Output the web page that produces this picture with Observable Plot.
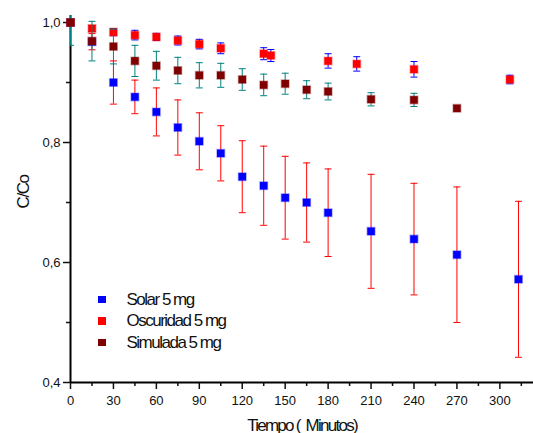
<!DOCTYPE html>
<html>
<head>
<meta charset="utf-8">
<script src="https://cdn.jsdelivr.net/npm/d3@7"></script>
<script src="https://cdn.jsdelivr.net/npm/@observablehq/plot@0.6"></script>
<style>
  html, body { margin: 0; padding: 0; background: white; }
  #wrap { position: relative; width: 533px; height: 433px; }
  #legend { position: absolute; left: 98px; top: 288.5px; font-family: 'Liberation Sans', Arial, sans-serif; font-size: 17px; letter-spacing: -1.5px; color: #111; }
  #legend .row { display: flex; align-items: center; height: 21.5px; line-height: 21.5px; white-space: nowrap; }
  #legend .sw { width: 7.5px; height: 7.5px; margin-right: 21px; }
</style>
</head>
<body>
<div id="wrap"></div>
<script>
// ---- data ----
const seriesNames = ["Solar 5 mg", "Oscuridad 5 mg", "Simulada 5 mg"];
const markerColors = ["#0000ff", "#ff0000", "#800000"];
const errorColors = ["#ff0000", "#0000ff", "#008080"];

const tSolar = [0, 15, 30, 45, 60, 75, 90, 105, 120, 135, 150, 165, 180, 210, 240, 270, 313];
const solar = [1.0, 0.968, 0.900, 0.876, 0.851, 0.825, 0.802, 0.782, 0.743, 0.728, 0.708, 0.700, 0.683, 0.652, 0.639, 0.613, 0.572];
const solarErr = [0, 0.0135, 0.036, 0.028, 0.040, 0.046, 0.0475, 0.046, 0.060, 0.066, 0.069, 0.066, 0.073, 0.095, 0.093, 0.113, 0.130];

const tOsc = [0, 15, 30, 45, 60, 75, 90, 105, 135, 140, 180, 200, 240, 307];
const osc = [1.0, 0.990, 0.984, 0.979, 0.976, 0.970, 0.964, 0.957, 0.948, 0.945, 0.936, 0.931, 0.922, 0.905];
const oscErr = [0, 0.005, 0.006, 0.008, 0.006, 0.0075, 0.008, 0.009, 0.010, 0.010, 0.012, 0.012, 0.013, 0.0072];

const tSim = [0, 15, 30, 45, 60, 75, 90, 105, 120, 135, 150, 165, 180, 210, 240, 270];
const sim = [1.0, 0.969, 0.960, 0.936, 0.928, 0.920, 0.912, 0.912, 0.905, 0.896, 0.898, 0.888, 0.885, 0.872, 0.871, 0.857];
const simErr = [0.038, 0.033, 0.029, 0.026, 0.024, 0.022, 0.021, 0.020, 0.018, 0.018, 0.0175, 0.015, 0.014, 0.011, 0.011, 0.004];

const xDomain = [0, 323.5];
const yDomain = [0.4, 1.0117];
const xTicks = [0, 30, 60, 90, 120, 150, 180, 210, 240, 270, 300];
const xMinor = [15, 45, 75, 105, 135, 165, 195, 225, 255, 285, 315];
const yTicks = [0.4, 0.6, 0.8, 1.0];
const yMinor = [0.5, 0.7, 0.9];
const xLabel = "Tiempo (  Minutos)";
const yLabel = "C/Co";

// ---- build tables ----
function rows(ts, vs, es) { return ts.map((t, i) => ({t, v: vs[i], e: es[i]})); }
const tables = [rows(tSolar, solar, solarErr), rows(tOsc, osc, oscErr), rows(tSim, sim, simErr)];

const cap = { draw(ctx) { ctx.moveTo(-3.5, 0); ctx.lineTo(3.5, 0); } };

function seriesMarks(data, i) {
  const withErr = data.filter(d => d.e > 0);
  return [
    Plot.ruleX(withErr, {x: "t", y1: d => d.v - d.e, y2: d => d.v + d.e, stroke: errorColors[i], strokeWidth: 1, clip: true}),
    Plot.dot(withErr, {x: "t", y: d => d.v - d.e, symbol: cap, stroke: errorColors[i], fill: "none", strokeWidth: 1, r: 3, clip: true}),
    Plot.dot(withErr, {x: "t", y: d => d.v + d.e, symbol: cap, stroke: errorColors[i], fill: "none", strokeWidth: 1, r: 3, clip: true}),
    Plot.dot(data, {x: "t", y: "v", symbol: "square", r: 4.25, fill: markerColors[i], stroke: markerColors[i], strokeOpacity: 0.35, strokeWidth: 1.5})
  ];
}

const fmt = d => d.toFixed(1).replace(".", ",");

const chart = Plot.plot({
  width: 533,
  height: 433,
  marginLeft: 70,
  marginRight: 0,
  marginTop: 15,
  marginBottom: 51,
  x: {domain: xDomain, label: null},
  y: {domain: yDomain, label: null},
  style: {fontFamily: "'Liberation Sans', Arial, sans-serif", fontSize: "13px", color: "#111", background: "white", overflow: "visible"},
  marks: [
    Plot.axisX({ticks: xTicks, tickSize: 7, tickPadding: 6, tickFormat: d => String(d), strokeWidth: 1.5, fontSize: 13, label: null}),
    Plot.axisX({ticks: xMinor, tickSize: 4, tickFormat: () => "", strokeWidth: 1.5, label: null}),
    Plot.axisY({ticks: yTicks, tickSize: 7, tickPadding: 3, tickFormat: fmt, strokeWidth: 1.5, fontSize: 13, label: null}),
    Plot.axisY({ticks: yMinor, tickSize: 4, tickFormat: () => "", strokeWidth: 1.5, label: null}),
    Plot.ruleY([yDomain[0]], {stroke: "black", strokeWidth: 2}),
    Plot.ruleX([xDomain[0]], {stroke: "black", strokeWidth: 2}),
    ...seriesMarks(tables[0], 0),
    ...seriesMarks(tables[1], 1),
    ...seriesMarks(tables[2], 2),
    Plot.text([xLabel], {frameAnchor: "bottom", dy: 48, lineAnchor: "bottom", text: d => d, fontSize: 17, fill: "#111"}),
    Plot.text([yLabel], {frameAnchor: "left", rotate: -90, dx: -42, dy: 9.5, lineAnchor: "bottom", text: d => d, fontSize: 17, fill: "#111"})
  ]
});

// condensed title lettering, as in the reference
d3.select(chart).selectAll("text")
  .filter(function () { return this.textContent === xLabel; })
  .attr("xml:space", "preserve")
  .style("letter-spacing", "-1.75px").style("white-space", "pre");
d3.select(chart).selectAll("text")
  .filter(function () { return this.textContent === yLabel; })
  .style("letter-spacing", "-1.4px");

const wrap = document.getElementById("wrap");
wrap.appendChild(chart);

const legend = document.createElement("div");
legend.id = "legend";
seriesNames.forEach((name, i) => {
  const row = document.createElement("div");
  row.className = "row";
  const sw = document.createElement("span");
  sw.className = "sw";
  sw.style.background = markerColors[i];
  const tx = document.createElement("span");
  tx.textContent = name;
  row.appendChild(sw);
  row.appendChild(tx);
  legend.appendChild(row);
});
wrap.appendChild(legend);
</script>
</body>
</html>
